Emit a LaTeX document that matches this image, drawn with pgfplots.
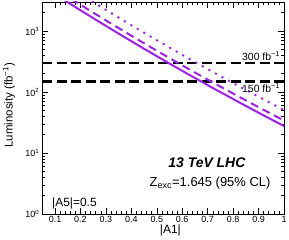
\documentclass[border=0pt]{standalone}
\usepackage{fontspec}
\setmainfont{Liberation Sans}
\usepackage{pgfplots}
\pgfplotsset{compat=1.18}
\definecolor{lpurple}{RGB}{160,32,240}
\begin{document}
\begin{tikzpicture}
\useasboundingbox (-42.3bp,-26bp) rectangle (246.7bp,214bp);
\begin{axis}[
  scale only axis, width=241.7bp, height=212bp,
  at={(0,0)}, anchor=south west,
  ymode=log, xmin=0.05, xmax=1, ymin=1, ymax=3000,
  axis line style={line width=0.8bp},
  tick align=inside, xtick pos=both, ytick pos=both,
  xtick={0.1,0.2,0.3,0.4,0.5,0.6,0.7,0.8,0.9,1},
  xticklabels={0.1,0.2,0.3,0.4,0.5,0.6,0.7,0.8,0.9,1},
  minor x tick num=4,
  ytick={1,10,100,1000},
  yticklabels={10\textsuperscript{0},10\textsuperscript{1},10\textsuperscript{2},10\textsuperscript{3}},
  minor ytick={2,3,...,9,20,30,...,90,200,300,...,900,2000,3000},
  major tick length=6bp, minor tick length=3bp,
  tick style={black, line width=0.5bp},
  ticklabel style={font=\fontsize{9}{10}\selectfont},
  xticklabel style={inner sep=0pt, yshift=-2bp},
  yticklabel style={inner sep=0pt, xshift=-3bp},
  xlabel={|A1|},
  xlabel style={at={(axis description cs:0.53,-0.0755)}, anchor=center, font=\fontsize{12}{14}\selectfont},
  ylabel={Luminosity (fb\textsuperscript{−1})},
  ylabel style={at={(axis description cs:-0.138,0.514)}, anchor=center, font=\fontsize{11.5}{13}\selectfont},
  clip=true
]
\addplot[black, line width=2.5bp, dash pattern=on 10bp off 4.5bp] coordinates {(0.05,300) (1,300)};
\addplot[black, line width=2.5bp, dash pattern=on 10bp off 4.5bp] coordinates {(0.05,150) (1,150)};
% solid
\addplot[lpurple, line width=2bp, smooth] coordinates {
(0.12,3556) (0.2,2198) (0.3,1218) (0.4,683) (0.5,388) (0.6,223) (0.7,130) (0.8,76.9) (0.9,45.9) (1.0,27.7)};
% dashed
\addplot[lpurple, line width=2bp, smooth, dash pattern=on 8bp off 5bp] coordinates {
(0.12,4374) (0.2,2704) (0.3,1498) (0.4,840) (0.5,477) (0.6,274) (0.7,160) (0.8,94.6) (0.9,56.5) (1.0,34.1)};
% dotted
\addplot[lpurple, line width=2bp, smooth, dash pattern=on 2bp off 5.5bp] coordinates {
(0.12,6507) (0.2,4022) (0.3,2229) (0.4,1250) (0.5,710) (0.6,408) (0.7,238) (0.8,140.7) (0.9,84.0) (1.0,50.7)};
\node[anchor=south, inner sep=0pt, yshift=2.5bp, font=\fontsize{10.5}{12}\selectfont] at (axis cs:0.91,300) {300 fb\textsuperscript{−1}};
\node[anchor=north, inner sep=0pt, yshift=-2bp, font=\fontsize{10.5}{12}\selectfont] at (axis cs:0.91,150) {150 fb\textsuperscript{−1}};
\node[font=\bfseries\itshape\fontsize{14}{16}\selectfont] at (rel axis cs:0.681,0.2406) {13 TeV LHC};
\node[font=\fontsize{13}{15}\selectfont] at (rel axis cs:0.694,0.144) {Z\textsubscript{exc}=1.645 (95\% CL)};
\node[font=\fontsize{12}{14}\selectfont] at (rel axis cs:0.133,0.052) {|A5|=0.5};
\end{axis}
\end{tikzpicture}
\end{document}
